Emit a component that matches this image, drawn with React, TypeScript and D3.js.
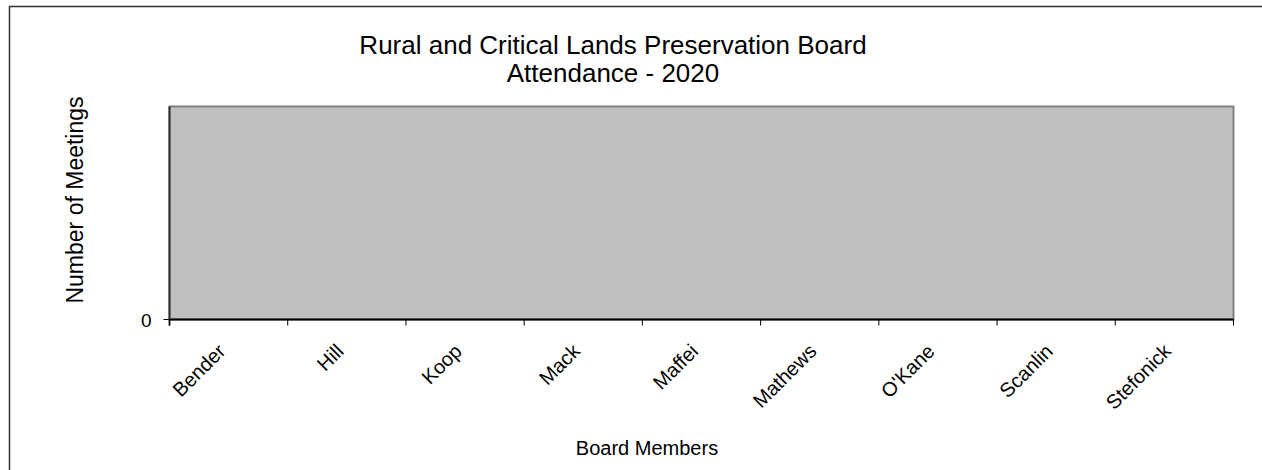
import React from "react";
import * as d3 from "d3";

const categories = ["Bender", "Hill", "Koop", "Mack", "Maffei", "Mathews", "O'Kane", "Scanlin", "Stefonick"];
const meetings = [0, 0, 0, 0, 0, 0, 0, 0, 0];
const yTicks = [0];
const titleLines = ["Rural and Critical Lands Preservation Board", "Attendance - 2020"];
const xTitle = "Board Members";
const yTitle = "Number of Meetings";

const W = 1262;
const H = 470;
const FONT = "'Liberation Sans', Arial, sans-serif";

export default function App() {
  const left = 169.5;
  const right = 1233.5;
  const top = 106.5;
  const bottom = 319.5;

  const x = d3.scaleBand<string>().domain(categories).range([left, right]).paddingInner(0.5).paddingOuter(0.25);
  const xb = d3.scaleBand<string>().domain(categories).range([left, right]);
  const y = d3.scaleLinear().domain([0, 1]).range([bottom, top]);

  const bounds = categories.map((_, i) => left + (i * (right - left)) / categories.length).concat([right]);

  return (
    <svg width={W} height={H} style={{ position: "absolute", left: 0, top: 0, fontFamily: FONT }}>
      <rect x={9.5} y={6.5} width={W + 20} height={H + 20} fill="#fff" stroke="#333" strokeWidth={1.5} />
      {titleLines.map((t, i) => (
        <text key={i} x={613} y={54 + i * 28} textAnchor="middle" fontSize={26} fill="#000">
          {t}
        </text>
      ))}
      <rect x={left} y={top} width={right - left} height={bottom - top} fill="#c0c0c0" stroke="#808080" strokeWidth={2} />
      {categories.map((c, i) => (
        <rect key={c} x={x(c)} y={y(meetings[i])} width={x.bandwidth()} height={bottom - y(meetings[i])} fill="#9999ff" stroke="#000" />
      ))}
      <line x1={left} x2={left} y1={top} y2={bottom + 6} stroke="#333" strokeWidth={2} />
      <line x1={left} x2={right} y1={bottom} y2={bottom} stroke="#000" strokeWidth={2} />
      {bounds.map((b, i) => (
        <line key={i} x1={b} x2={b} y1={bottom} y2={bottom + 6} stroke="#000" strokeWidth={1} />
      ))}
      {yTicks.map((t) => (
        <g key={t}>
          <line x1={left - 6} x2={left} y1={y(t)} y2={y(t)} stroke="#000" />
          <text x={left - 18} y={y(t) + 7} textAnchor="end" fontSize={19} fill="#000">
            {t}
          </text>
        </g>
      ))}
      {categories.map((c) => {
        const cx = (xb(c) as number) + xb.bandwidth() / 2 - 2;
        const cy = bottom + 33;
        return (
          <text key={c} x={cx} y={cy} textAnchor="end" fontSize={20} fill="#000" transform={`rotate(-45,${cx},${cy})`}>
            {c}
          </text>
        );
      })}
      <text x={647} y={455} textAnchor="middle" fontSize={20} fill="#000">
        {xTitle}
      </text>
      <text transform={`translate(83,200) rotate(-90)`} textAnchor="middle" fontSize={23} fill="#000">
        {yTitle}
      </text>
    </svg>
  );
}
